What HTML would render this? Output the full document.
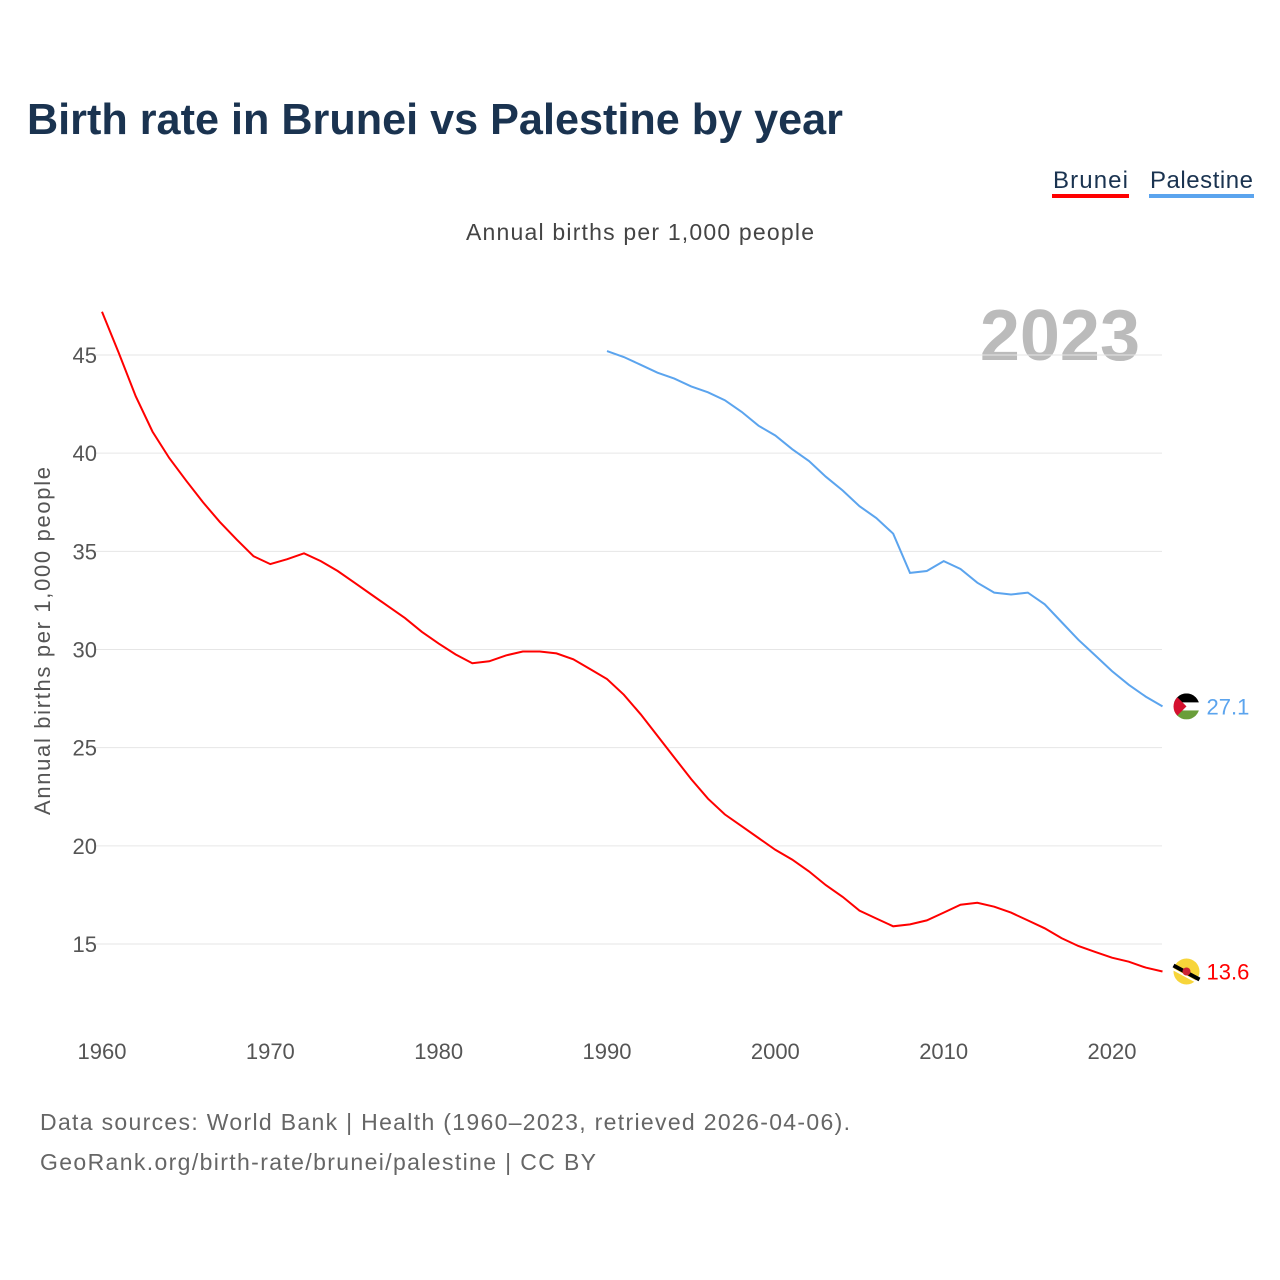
<!DOCTYPE html>
<html><head><meta charset="utf-8"><style>
body{margin:0;background:#fff;font-family:"Liberation Sans",sans-serif}
#wrap{position:relative;width:1280px;height:1280px;overflow:hidden}
</style></head><body>
<div id="wrap">
<svg id="svg" width="1280" height="1280" xmlns="http://www.w3.org/2000/svg">
<defs><clipPath id="pc"><circle cx="1186" cy="706" r="13"/></clipPath></defs>
<text x="27" y="134" font-size="44" font-weight="bold" fill="#1a3350" textLength="816" lengthAdjust="spacingAndGlyphs">Birth rate in Brunei vs Palestine by year</text>
<g><text x="1053" y="188" font-size="24" fill="#1a3350" textLength="75">Brunei</text><rect x="1052" y="194" width="77" height="4" fill="#ff0000"/></g>
<g><text x="1150" y="188" font-size="24" fill="#1a3350" textLength="103">Palestine</text><rect x="1149" y="194" width="105" height="4" fill="#5ba4ee"/></g>
<text x="466" y="240" font-size="23" fill="#444" textLength="348">Annual births per 1,000 people</text>
<text x="1140" y="360" font-size="72" font-weight="bold" fill="#bbb" text-anchor="end">2023</text>
<text transform="translate(50,815) rotate(-90)" font-size="22" fill="#555" textLength="348">Annual births per 1,000 people</text>
<g id="grid"></g><g id="series"></g>
<text x="40" y="1130" font-size="23" fill="#666" textLength="810">Data sources: World Bank | Health (1960–2023, retrieved 2026-04-06).</text>
<text x="40" y="1170" font-size="23" fill="#666" textLength="556">GeoRank.org/birth-rate/brunei/palestine | CC BY</text>
</svg></div>
<script>
const yTicks=[15,20,25,30,35,40,45];
const xTicks=[1960,1970,1980,1990,2000,2010,2020];
const bruneiYears=[];for(let y=1960;y<=2023;y++)bruneiYears.push(y);
const bruneiValues=[47.2,45.1,42.9,41.1,39.75,38.6,37.5,36.5,35.6,34.75,34.35,34.6,34.9,34.5,34.0,33.4,32.8,32.2,31.6,30.9,30.3,29.75,29.3,29.4,29.7,29.9,29.9,29.8,29.5,29.0,28.5,27.7,26.7,25.6,24.5,23.4,22.4,21.6,21.0,20.4,19.8,19.3,18.7,18.0,17.4,16.7,16.3,15.9,16.0,16.2,16.6,17.0,17.1,16.9,16.6,16.2,15.8,15.3,14.9,14.6,14.3,14.1,13.8,13.6];
const palestineYears=[];for(let y=1990;y<=2023;y++)palestineYears.push(y);
const palestineValues=[45.2,44.9,44.5,44.1,43.8,43.4,43.1,42.7,42.1,41.4,40.9,40.2,39.6,38.8,38.1,37.3,36.7,35.9,33.9,34.0,34.5,34.1,33.4,32.9,32.8,32.9,32.3,31.4,30.5,29.7,28.9,28.2,27.6,27.1];
const X=y=>102+(y-1960)*1010/60;
const Y=v=>944-(v-15)*589/30;
const NS="http://www.w3.org/2000/svg";
const grid=document.getElementById('grid'),ser=document.getElementById('series');
function mk(tag,at,p){const e=document.createElementNS(NS,tag);for(const k in at)e.setAttribute(k,at[k]);p.appendChild(e);return e;}
yTicks.forEach(t=>{
 const l=mk('line',{x1:95,x2:1162,y1:Y(t),y2:Y(t),stroke:'#e6e6e6','stroke-width':1},grid);
 
 
 const tx=mk('text',{x:97,y:Y(t)+8,'font-size':22,fill:'#555','text-anchor':'end'},grid);tx.textContent=t;
 
 
});
xTicks.forEach(t=>{
 const tx=mk('text',{x:X(t),y:1059,'font-size':22,fill:'#555','text-anchor':'middle'},grid);tx.textContent=t;
 
 
});
function line(years,vals,color,name){
 const d=years.map((y,i)=>(i?'L':'M')+X(y).toFixed(1)+','+Y(vals[i]).toFixed(1)).join('');
 const p=mk('path',{d:d,fill:'none',stroke:color,'stroke-width':2},ser);
 
 
 const ly=years[years.length-1],lv=vals[vals.length-1];
 const cx=X(ly)+24,cy=Y(lv);
 const g=mk('g',{},ser);
 
 
 if(name=='palestine'){
  const cid='clip-'+name;
  const cp=mk('clipPath',{id:cid},g);mk('circle',{cx:cx,cy:cy,r:13},cp);
  const fg=mk('g',{'clip-path':'url(#'+cid+')'},g);
  mk('rect',{x:cx-13,y:cy-13,width:26,height:9,fill:'#000'},fg);
  mk('rect',{x:cx-13,y:cy-4,width:26,height:8,fill:'#fff'},fg);
  mk('rect',{x:cx-13,y:cy+4,width:26,height:9,fill:'#6a9e3a'},fg);
  mk('path',{d:'M'+(cx-13)+','+(cy-13)+'L'+(cx)+','+cy+'L'+(cx-13)+','+(cy+13)+'Z',fill:'#d5102f'},fg);
 } else {
  mk('circle',{cx:cx,cy:cy,r:13,fill:'#f7d53a'},g);
  mk('path',{d:'M'+(cx-13)+','+(cy-6)+'L'+(cx+13)+','+(cy+8),stroke:'#000','stroke-width':4},g);
  mk('path',{d:'M'+(cx-13)+','+(cy-2)+'L'+(cx+13)+','+(cy+12),stroke:'#fff','stroke-width':2},g);
  mk('circle',{cx:cx,cy:cy,r:4,fill:'#cc2233'},g);
 }
 const t=mk('text',{x:X(ly)+44,y:Y(lv)+8,'font-size':22,fill:color},ser);t.textContent=lv.toFixed(1);
 
 
}
line(bruneiYears,bruneiValues,'#ff0000','brunei');
line(palestineYears,palestineValues,'#5ba4ee','palestine');
</script>
</body></html>
